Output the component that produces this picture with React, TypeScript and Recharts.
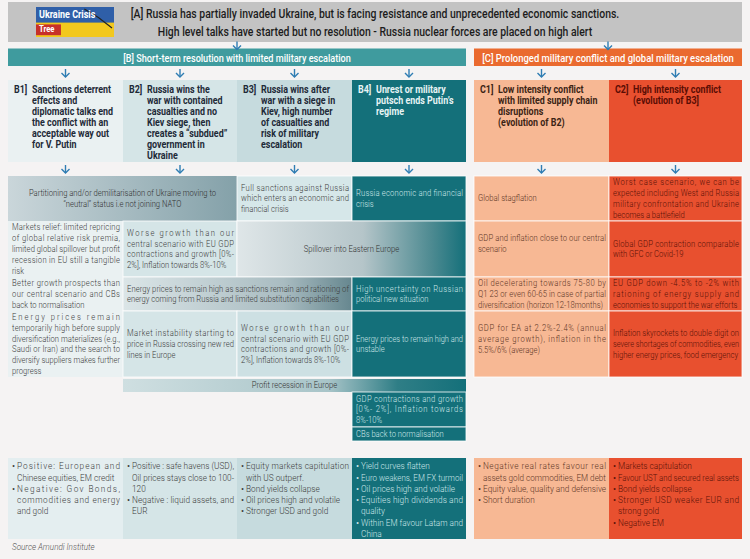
import React from "react";
import { ComposedChart, XAxis, YAxis, ReferenceArea, ReferenceDot } from "recharts";

const W = 750;
const H = 559;
const FONT = "Roboto";
const FONT_STACK = "Roboto, 'Liberation Sans', Arial, sans-serif";
const SQUEEZE = 0.9;

// ---- text content ----
const headerLines = [
  "[A] Russia has partially invaded Ukraine, but is facing resistance and unprecedented economic sanctions.",
  "High level talks have started but no resolution - Russia nuclear forces are placed on high alert",
];
const logoLines = ["Ukraine Crisis", "Tree"];
const sectionTitles = [
  "[B] Short-term resolution with limited military escalation",
  "[C] Prolonged military conflict and global military escalation",
];
const scenarioCodes = ["B1]", "B2]", "B3]", "B4]", "C1]", "C2]"];
const scenarioTitles = [
  ["Sanctions deterrent", "effects and", "diplomatic talks end", "the conflict with an", "acceptable way out", "for V. Putin"],
  ["Russia wins the", "war with contained", "casualties and no", "Kiev siege, then", "creates a “subdued”", "government in", "Ukraine"],
  ["Russia wins after", "war with a siege in", "Kiev, high number", "of casualties and", "risk of military", "escalation"],
  ["Unrest or military", "putsch ends Putin’s", "regime"],
  ["Low intensity conflict", "with limited supply chain", "disruptions", "(evolution of B2)"],
  ["High intensity conflict", "(evolution of B3]"],
];

const partitionText = ["Partitioning and/or demilitarisation of Ukraine moving to", "“neutral” status i.e not joining NATO"];
const sanctionsText = ["Full sanctions against Russia", "which enters an economic and", "financial crisis"];
const russiaCrisisText = ["Russia economic and financial", "crisis"];
const stagflationText = ["Global stagflation"];
const worstCaseText = ["Worst case scenario, we can be", "expected including West and Russia", "military confrontation and Ukraine", "becomes a battlefield"];

const marketsReliefText = ["Markets relief: limited repricing", "of global relative risk premia,", "limited global spillover but profit", "recession in EU still a tangible", "risk"];
const b2GrowthText = ["Worse growth than our", "central scenario with EU GDP", "contractions and growth [0%-", "2%], Inflation towards 8%-10%"];
const spilloverText = ["Spillover into Eastern Europe"];
const c1GdpText = ["GDP and inflation close to our central", "scenario"];
const c2GdpText = ["Global GDP contraction comparable", "with GFC or Covid-19"];

const betterGrowthText = ["Better growth prospects than", "our central scenario and CBs", "back to normalisation"];
const energyHighText = ["Energy prices to remain high as sanctions remain and rationing of", "energy coming from Russia and limited substitution capabilities"];
const uncertaintyText = ["High uncertainty on Russian", "political new situation"];
const oilText = ["Oil decelerating towards 75-80 by", "Q1 23 or even 60-65 in case of partial", "diversification (horizon 12-18months)"];
const euGdpText = ["EU GDP down -4.5% to -2% with", "rationing of energy supply and", "economies to support the war efforts"];

const energyRemainText = ["Energy prices remain", "temporarily high before supply", "diversification materializes (e.g.,", "Saudi or Iran) and the search to", "diversify suppliers makes further", "progress"];
const instabilityText = ["Market instability starting to", "price in Russia crossing new red", "lines in Europe"];
const b3GrowthText = ["Worse growth than our", "central scenario with EU GDP", "contractions and growth [0%-", "2%], Inflation towards 8%-10%"];
const energyUnstableText = ["Energy prices to remain high and", "unstable"];
const eaGdpText = ["GDP for EA at 2.2%-2.4% (annual", "average growth), inflation in the", "5.5%/6% (average)"];
const inflationText = ["Inflation skyrockets to double digit on", "severe shortages of commodities, even", "higher energy prices, food emergency"];

const profitText = ["Profit recession in Europe"];
const b4GdpText = ["GDP contractions and growth", "[0%- 2%], Inflation towards", "8%-10%"];
const cbsText = ["CBs back to normalisation"];

const assetsB1 = ["• Positive: European and", "Chinese equities, EM credit", "• Negative: Gov Bonds,", "commodities and energy", "and gold"];
const assetsB2 = ["• Positive : safe havens (USD),", "Oil prices stays close to 100-", "120", "• Negative : liquid assets, and", "EUR"];
const assetsB3 = ["• Equity markets capitulation", "with US outperf.", "• Bond yields collapse", "• Oil prices high and volatile", "• Stronger USD and gold"];
const assetsB4 = ["• Yield curves flatten", "• Euro weakens, EM FX turmoil", "• Oil prices high and volatile", "• Equities high dividends and", "quality", "• Within EM favour Latam and", "China"];
const assetsC1 = ["• Negative real rates favour real", "assets gold commodities, EM debt", "• Equity value, quality and defensive", "• Short duration"];
const assetsC2 = ["• Markets capitulation", "• Favour UST and secured real assets", "• Bond yields collapse", "• Stronger USD weaker EUR and", "strong gold", "• Negative EM"];
const sourceText = ["Source Amundi Institute"];

// ---- layout ----
const X = {
  b1: [8, 123], b2: [123, 237], b3: [237, 352], b4: [352, 466],
  c1: [474, 609], c2: [609, 742],
  b1b2: [8, 237], b2b3: [123, 352], b3b4: [237, 466], b2b4: [123, 466],
  B: [8, 466], C: [474, 742], all: [8, 742],
};
const RHEAD = [2, 42];
const RBAR = [50, 66];
const RS = [80, 162];
const R1 = [176, 221];
const R2 = [221, 277];
const R3 = [277, 311];
const R4 = [311, 377];
const R5 = [379, 392];
const R6 = [392, 427];
const R7 = [427, 441];
const RB = [458, 539];

const BG = "#f5f3f3";
const INK = "#3d3d3d";
const LIGHT_INK = "#cde6e8";
const C1_INK = "#5e3727";
const C2_INK = "#5a1208";
const TEAL = "#14707a";
const B1_FILL = "#eaf1f2";
const B2_FILL = "#d5e5e7";
const B3_FILL = "#c6dbde";
const C1_FILL = "#f7b894";
const C2_FILL = "#e8502f";
const ARROW = "#2f7db3";
const SEP = "rgba(255,255,255,0.8)";

type Box = { x: number; y: number; width: number; height: number };
type Cell = {
  x: number[];
  y: number[];
  lines: string[];
  fill?: string;
  color?: string;
  align?: "center" | "justify" | "left";
  size?: number;
  lh?: number;
  weight?: number;
  top?: number;
  padL?: number;
  padR?: number;
  indent?: number;
  italic?: boolean;
  squeeze?: number;
  stroke?: string;
};

let ctx: CanvasRenderingContext2D | null = null;
function textWidth(t: string, size: number, weight: number) {
  if (!ctx) ctx = document.createElement("canvas").getContext("2d");
  if (!ctx) return t.length * size * 0.47;
  ctx.font = `${weight} ${size}px ${FONT}`;
  return ctx.measureText(t).width;
}

function Lines({ b, c }: { b: Box; c: Cell }) {
  const size = c.size ?? 8.5;
  const lh = c.lh ?? 10.8;
  const weight = c.weight ?? 300;
  const k = c.squeeze ?? SQUEEZE;
  const padL = c.padL ?? 4;
  const padR = c.padR ?? 3;
  const indent = c.indent ?? 5;
  const n = c.lines.length;
  const first = c.top ?? b.y + b.height / 2 - ((n - 1) * lh) / 2;
  let bullets = false;
  return (
    <g
      fontFamily={FONT_STACK}
      fontSize={size}
      fontWeight={weight}
      fill={c.color ?? INK}
      fontStyle={c.italic ? "italic" : "normal"}
    >
      {c.lines.map((raw, i) => {
        const isBullet = raw.startsWith("• ");
        if (isBullet) bullets = true;
        const t = isBullet ? raw.slice(2) : raw;
        const left = b.x + padL + (bullets ? indent : 0);
        const avail = b.x + b.width - padR - left;
        const base = first + i * lh + size * 0.35;
        const w = textWidth(t, size, weight) * k;
        const next = c.lines[i + 1];
        const stretch = c.align === "justify" && next !== undefined && !next.startsWith("• ");
        let len: number | undefined;
        let adj: "spacing" | "spacingAndGlyphs" = "spacing";
        if (stretch) {
          len = avail;
          if (w > avail) adj = "spacingAndGlyphs";
        } else if (w > avail) {
          len = avail;
          adj = "spacingAndGlyphs";
        }
        const center = c.align === "center";
        const tx = center ? b.x + b.width / 2 : left;
        return (
          <React.Fragment key={i}>
            {isBullet && (
              <text x={b.x + padL} y={base} fontWeight={400}>
                •
              </text>
            )}
            <text
              transform={`translate(${tx},${base}) scale(${k},1)`}
              textAnchor={center ? "middle" : "start"}
              textLength={len !== undefined ? len / k : undefined}
              lengthAdjust={len !== undefined ? adj : undefined}
            >
              {t}
            </text>
          </React.Fragment>
        );
      })}
    </g>
  );
}

const CellShape = ({ p, c }: { p: any; c: Cell }) => {
  const b = { x: p.x, y: p.y, width: p.width, height: p.height };
  return (
    <g>
      <rect {...b} fill={c.fill ?? "none"} stroke={c.stroke ?? "none"} strokeWidth={1} />
      <Lines b={b} c={c} />
    </g>
  );
};

const TitleShape = ({ p, code, c }: { p: any; code: string; c: Cell }) => {
  const b = { x: p.x, y: p.y, width: p.width, height: p.height };
  return (
    <g>
      <rect {...b} fill={c.fill} />
      <text
        transform={`translate(${b.x + 6},${(c.top ?? 89) + 3.7}) scale(${c.squeeze ?? SQUEEZE},1)`}
        fontFamily={FONT_STACK}
        fontSize={10.5}
        fontWeight={700}
        fill={c.color}
      >
        {code}
      </text>
      <Lines b={b} c={c} />
    </g>
  );
};

const LogoShape = ({ p }: { p: any }) => {
  const { x, y, width, height } = p;
  return (
    <g fontFamily={FONT_STACK} fontWeight={700}>
      <rect x={x} y={y} width={width} height={height} fill="#f2c81e" />
      <rect x={x} y={y} width={width} height={height * 0.52} fill="#2f5fa8" />
      <rect x={x} y={y + height * 0.58} width={width * 0.32} height={height * 0.36} fill="#c7302a" />
      <path
        d={`M${x + width * 0.62},${y + 2} L${x + width * 0.8},${y + height * 0.35} L${x + width * 0.9},${y + height * 0.55} L${x + width - 2},${y + height * 0.7}`}
        stroke="#222"
        strokeWidth={1.2}
        fill="none"
      />
      <text transform={`translate(${x + 3},${y + 11}) scale(0.9,1)`} fontSize={10} fill="#fff">
        {logoLines[0]}
      </text>
      <text transform={`translate(${x + 3},${y + height - 5}) scale(0.9,1)`} fontSize={8.5} fill="#fff">
        {logoLines[1]}
      </text>
    </g>
  );
};

const ArrowShape = (p: any) => {
  const { cx, cy } = p;
  return (
    <g stroke={ARROW} strokeWidth={1.4} fill="none">
      <line x1={cx} y1={cy - 4} x2={cx} y2={cy + 4} />
      <polyline points={`${cx - 4},${cy} ${cx},${cy + 4} ${cx + 4},${cy}`} />
    </g>
  );
};

const mid = (r: number[]) => (r[0] + r[1]) / 2;
const ASSET = { align: "justify" as const, top: 466, lh: 11.3, size: 9.2 };

const cells: Cell[] = [
  // header and section bars
  { x: X.all, y: RHEAD, lines: headerLines, fill: "#c3c3c3", color: "#1c1c1c", align: "center", size: 12, lh: 18, top: 14, weight: 500, squeeze: 0.87 },
  { x: X.B, y: [48.5, 50], lines: [], fill: "#3f9b9e" },
  { x: X.C, y: [48.5, 50], lines: [], fill: "#ea6a2f" },
  { x: X.B, y: RBAR, lines: [sectionTitles[0]], fill: "#3f9b9e", color: "#ffffff", align: "center", size: 11, weight: 500, squeeze: 0.83 },
  { x: X.C, y: RBAR, lines: [sectionTitles[1]], fill: "#ea6a2f", color: "#ffffff", align: "center", size: 11, weight: 500, squeeze: 0.86 },
  // row 1
  { x: X.b1b2, y: R1, lines: partitionText, fill: "url(#gPartition)", align: "center", color: "#333" },
  { x: X.b3, y: R1, lines: sanctionsText, fill: "#d6e7e9", align: "justify", stroke: SEP },
  { x: X.b4, y: R1, lines: russiaCrisisText, fill: TEAL, color: LIGHT_INK, align: "justify", stroke: SEP },
  { x: X.c1, y: R1, lines: stagflationText, fill: C1_FILL, color: C1_INK, align: "justify", stroke: SEP },
  { x: X.c2, y: R1, lines: worstCaseText, fill: C2_FILL, color: C2_INK, align: "justify", stroke: SEP },
  // row 2
  { x: X.b1, y: R2, lines: marketsReliefText, fill: B1_FILL, align: "justify" },
  { x: X.b2, y: R2, lines: b2GrowthText, fill: B2_FILL, align: "justify", stroke: SEP },
  { x: X.b3b4, y: R2, lines: spilloverText, fill: "url(#gSpill)", align: "center", color: "#333", stroke: SEP },
  { x: X.c1, y: R2, lines: c1GdpText, fill: C1_FILL, color: C1_INK, align: "justify", top: 238, stroke: SEP },
  { x: X.c2, y: R2, lines: c2GdpText, fill: C2_FILL, color: C2_INK, align: "justify", stroke: SEP },
  // row 3
  { x: X.b1, y: R3, lines: betterGrowthText, fill: B1_FILL, align: "justify" },
  { x: X.b2b3, y: R3, lines: energyHighText, fill: "url(#gEnergy)", align: "justify", stroke: SEP },
  { x: X.b4, y: R3, lines: uncertaintyText, fill: TEAL, color: LIGHT_INK, align: "justify", stroke: SEP },
  { x: X.c1, y: R3, lines: oilText, fill: C1_FILL, color: C1_INK, align: "justify", stroke: SEP },
  { x: X.c2, y: R3, lines: euGdpText, fill: C2_FILL, color: C2_INK, align: "justify", stroke: SEP },
  // row 4
  { x: X.b1, y: R4, lines: energyRemainText, fill: B1_FILL, align: "justify" },
  { x: X.b2, y: R4, lines: instabilityText, fill: B2_FILL, align: "justify", stroke: SEP },
  { x: X.b3, y: R4, lines: b3GrowthText, fill: "#cde0e3", align: "justify", stroke: SEP },
  { x: X.b4, y: R4, lines: energyUnstableText, fill: TEAL, color: LIGHT_INK, align: "justify", stroke: SEP },
  { x: X.c1, y: R4, lines: eaGdpText, fill: C1_FILL, color: C1_INK, align: "justify", top: 328, stroke: SEP },
  { x: X.c2, y: R4, lines: inflationText, fill: C2_FILL, color: C2_INK, align: "justify", stroke: SEP },
  // lower B cells
  { x: X.b2b4, y: R5, lines: profitText, fill: "url(#gProfit)", align: "center", color: "#333" },
  { x: X.b4, y: R6, lines: b4GdpText, fill: TEAL, color: LIGHT_INK, align: "justify", stroke: SEP },
  { x: X.b4, y: R7, lines: cbsText, fill: TEAL, color: LIGHT_INK, align: "justify", stroke: SEP },
  // asset allocation row
  { x: X.b1, y: RB, lines: assetsB1, fill: "#e4eef0", ...ASSET },
  { x: X.b2, y: RB, lines: assetsB2, fill: B2_FILL, ...ASSET },
  { x: X.b3, y: RB, lines: assetsB3, fill: B3_FILL, ...ASSET },
  { x: X.b4, y: RB, lines: assetsB4, fill: TEAL, color: LIGHT_INK, ...ASSET },
  { x: X.c1, y: RB, lines: assetsC1, fill: C1_FILL, color: C1_INK, ...ASSET },
  { x: X.c2, y: RB, lines: assetsC2, fill: C2_FILL, color: C2_INK, ...ASSET },
  // source
  { x: [8, 200], y: [541, 553], lines: sourceText, color: "#555", italic: true, align: "left", top: 547, size: 9 },
];

const scenarioCols = [X.b1, X.b2, X.b3, X.b4, X.c1, X.c2];
const scenarioFills = [B1_FILL, B2_FILL, B3_FILL, TEAL, C1_FILL, C2_FILL];
const scenarioInks = ["#1e2a38", "#1e2a38", "#1e2a38", "#e8f4f5", "#3c2415", "#5a0d04"];

const arrows = [
  { x: mid(X.B), y: 45.5 },
  { x: mid(X.C), y: 45.5 },
  ...scenarioCols.map((c) => ({ x: mid(c), y: 73 })),
  ...scenarioCols.map((c) => ({ x: mid(c), y: 169 })),
];

export default function App() {
  return (
    <div style={{ position: "absolute", left: 0, top: 0, width: W, height: H, background: BG }}>
      <ComposedChart width={W} height={H} margin={{ top: 0, right: 0, bottom: 0, left: 0 }}>
        <defs>
          <linearGradient id="gPartition" x1="0" y1="0" x2="1" y2="0">
            <stop offset="0" stopColor="#cad6da" />
            <stop offset="1" stopColor="#84a1a9" />
          </linearGradient>
          <linearGradient id="gSpill" x1="0" y1="0" x2="1" y2="0">
            <stop offset="0" stopColor="#dfe6e8" />
            <stop offset="0.55" stopColor="#b5c5c9" />
            <stop offset="0.85" stopColor="#4d8a91" />
            <stop offset="1" stopColor="#14707a" />
          </linearGradient>
          <linearGradient id="gEnergy" x1="0" y1="0" x2="1" y2="0">
            <stop offset="0" stopColor="#dbe5e7" />
            <stop offset="0.7" stopColor="#a9bcc1" />
            <stop offset="1" stopColor="#66878f" />
          </linearGradient>
          <linearGradient id="gProfit" x1="0" y1="0" x2="1" y2="0">
            <stop offset="0" stopColor="#cfdfe1" />
            <stop offset="0.6" stopColor="#a8c4c8" />
            <stop offset="0.8" stopColor="#2f7e86" />
            <stop offset="1" stopColor="#14707a" />
          </linearGradient>
        </defs>
        <XAxis type="number" dataKey="x" domain={[0, W]} hide allowDataOverflow />
        <YAxis type="number" dataKey="y" domain={[0, H]} hide reversed allowDataOverflow />
        {cells.map((c, i) => (
          <ReferenceArea
            key={`c${i}`}
            x1={c.x[0]}
            x2={c.x[1]}
            y1={c.y[0]}
            y2={c.y[1]}
            ifOverflow="visible"
            shape={(p: any) => <CellShape p={p} c={c} />}
          />
        ))}
        <ReferenceArea x1={36} x2={114} y1={7} y2={37} ifOverflow="visible" shape={(p: any) => <LogoShape p={p} />} />
        {scenarioCols.map((col, i) => {
          const c: Cell = {
            x: col,
            y: RS,
            lines: scenarioTitles[i],
            fill: scenarioFills[i],
            color: scenarioInks[i],
            align: "left",
            size: 10.5,
            lh: 11.1,
            weight: 700,
            top: 89,
            padL: 24,
            squeeze: 0.85,
          };
          return (
            <ReferenceArea
              key={`s${i}`}
              x1={col[0]}
              x2={col[1]}
              y1={RS[0]}
              y2={RS[1]}
              ifOverflow="visible"
              shape={(p: any) => <TitleShape p={p} code={scenarioCodes[i]} c={c} />}
            />
          );
        })}
        {arrows.map((a, i) => (
          <ReferenceDot key={`a${i}`} x={a.x} y={a.y} r={4} ifOverflow="visible" shape={ArrowShape} />
        ))}
      </ComposedChart>
    </div>
  );
}
